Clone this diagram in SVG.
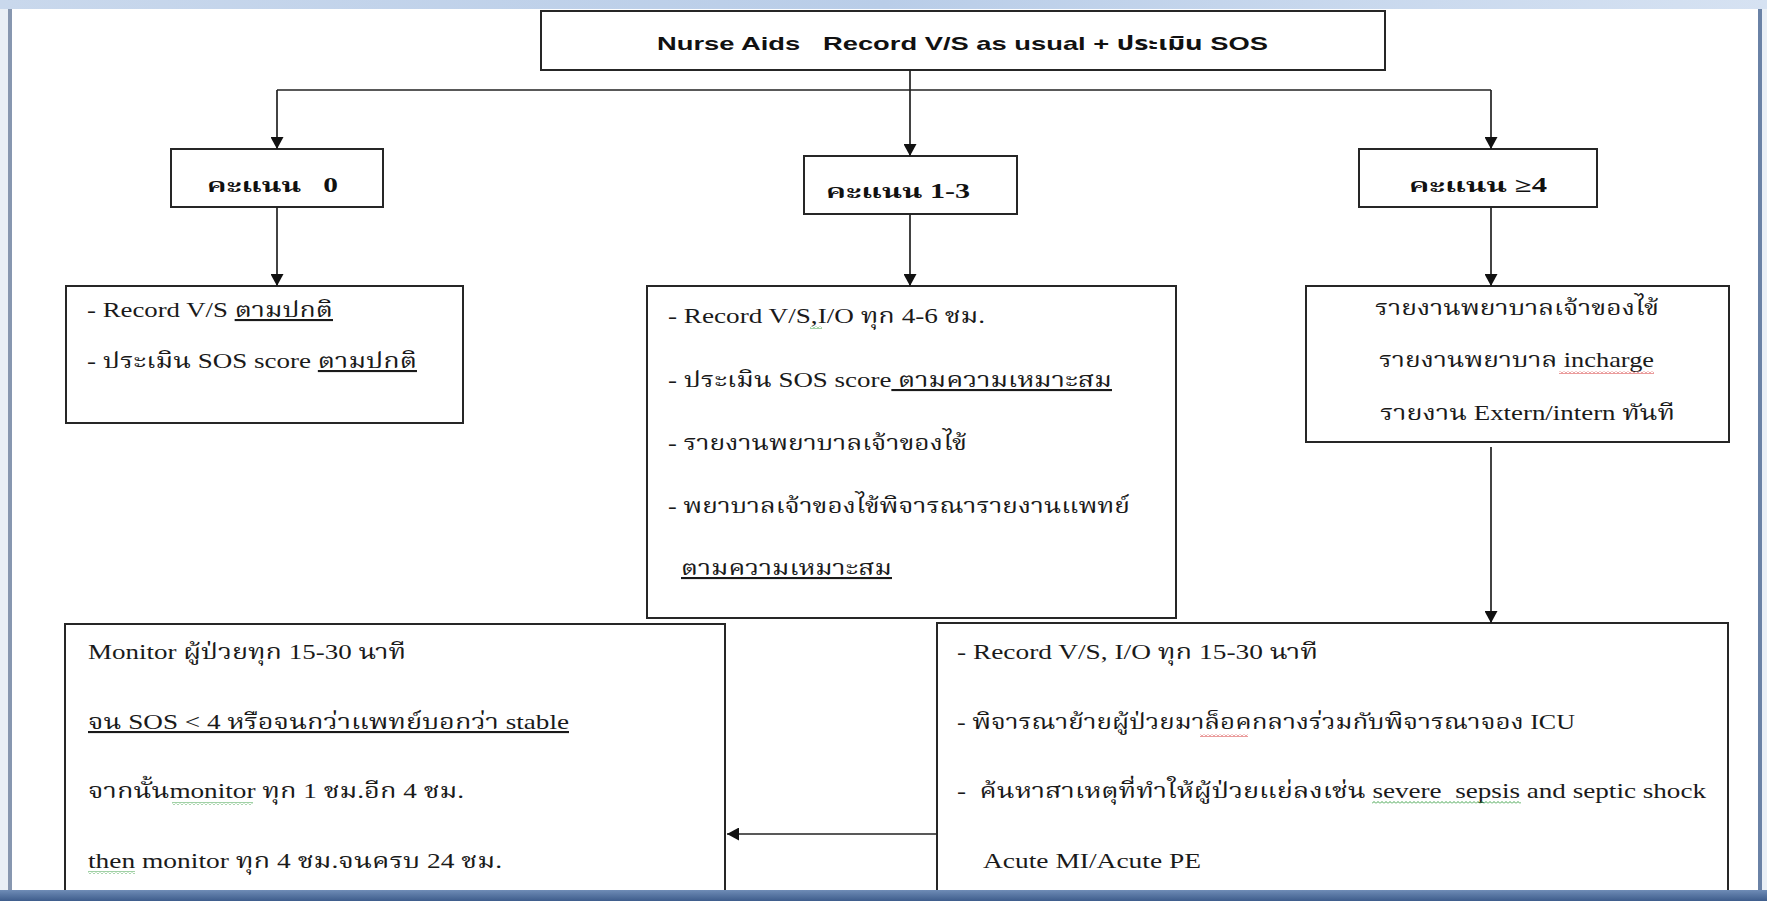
<svg xmlns="http://www.w3.org/2000/svg" width="1767" height="901" viewBox="0 0 1767 901">
<style>
.box{fill:#ffffff;stroke:#262626;stroke-width:2}
.con{fill:none;stroke:#222222;stroke-width:1.7}
.t{font-family:"Liberation Serif","Noto Serif Thai","Noto Sans Thai",serif;font-size:21px;fill:#1a1a1a}
.lbl{font-family:"Liberation Serif","Noto Serif Thai","Noto Sans Thai",serif;font-size:20px;font-weight:bold;fill:#111111}
.title{font-family:"Liberation Sans","Noto Sans Thai",sans-serif;font-size:19px;font-weight:bold;fill:#111111}
.u{text-decoration:underline}
.pre{white-space:pre}
</style>
<defs>
<marker id="arr" markerUnits="userSpaceOnUse" markerWidth="13" markerHeight="13" refX="12" refY="6.5" orient="auto">
<path d="M0,0 L12,6.5 L0,13 z" fill="#111111"/>
</marker>
<pattern id="sqR" patternUnits="userSpaceOnUse" width="4" height="3">
<path d="M0,2.5 L2,0.5 L4,2.5" fill="none" stroke="#d02020" stroke-width="0.9"/>
</pattern>
<pattern id="sqG" patternUnits="userSpaceOnUse" width="4" height="3">
<path d="M0,2.5 L2,0.5 L4,2.5" fill="none" stroke="#2e9a3a" stroke-width="0.9"/>
</pattern>
<linearGradient id="topG" x1="0" y1="0" x2="1" y2="0">
<stop offset="0" stop-color="#c9d8ec"/>
<stop offset="0.5" stop-color="#b9cde8"/>
<stop offset="1" stop-color="#d6e2f2"/>
</linearGradient>
<linearGradient id="botG" x1="0" y1="0" x2="0" y2="1">
<stop offset="0" stop-color="#6f8cb6"/>
<stop offset="1" stop-color="#3e5d8c"/>
</linearGradient>
</defs>
<rect x="0" y="0" width="1767" height="901" fill="#ffffff"/>

<g id="top">
<rect class="box" x="541" y="11" width="844" height="59"/>
<text class="title pre" x="657" y="50" textLength="611" lengthAdjust="spacingAndGlyphs">Nurse Aids   Record V/S as usual + ประเมิน SOS</text>
</g>

<g id="score0">
<rect class="box" x="171" y="149" width="212" height="58"/>
<text class="lbl pre" x="207" y="192" textLength="131" lengthAdjust="spacingAndGlyphs">คะแนน   0</text>
</g>

<g id="score13">
<rect class="box" x="804" y="156" width="213" height="58"/>
<text class="lbl" x="826" y="198" textLength="144" lengthAdjust="spacingAndGlyphs">คะแนน 1-3</text>
</g>

<g id="score4">
<rect class="box" x="1359" y="149" width="238" height="58"/>
<text class="lbl" x="1409" y="192" textLength="138" lengthAdjust="spacingAndGlyphs">คะแนน ≥4</text>
</g>

<g id="action0">
<rect class="box" x="66" y="286" width="397" height="137"/>
<text class="t" x="87" y="317" textLength="246" lengthAdjust="spacingAndGlyphs">- Record V/S <tspan class="u">ตามปกติ</tspan></text>
<text class="t" x="87" y="368" textLength="330" lengthAdjust="spacingAndGlyphs">- ประเมิน SOS score <tspan class="u">ตามปกติ</tspan></text>
</g>

<g id="action13">
<rect class="box" x="647" y="286" width="529" height="332"/>
<text class="t" x="668" y="323" textLength="317" lengthAdjust="spacingAndGlyphs">- Record V/S,I/O ทุก 4-6 ชม.</text>
<rect x="810" y="326" width="12" height="3" fill="url(#sqG)"/>
<text class="t" x="668" y="387" textLength="444" lengthAdjust="spacingAndGlyphs">- ประเมิน SOS score<tspan class="u"> ตามความเหมาะสม</tspan></text>
<text class="t" x="668" y="450" textLength="299" lengthAdjust="spacingAndGlyphs">- รายงานพยาบาลเจ้าของไข้</text>
<text class="t" x="668" y="513" textLength="462" lengthAdjust="spacingAndGlyphs">- พยาบาลเจ้าของไข้พิจารณารายงานแพทย์</text>
<text class="t u" x="681" y="575" textLength="211" lengthAdjust="spacingAndGlyphs">ตามความเหมาะสม</text>
</g>

<g id="action4">
<rect class="box" x="1306" y="286" width="423" height="156"/>
<text class="t" x="1375" y="315" textLength="284" lengthAdjust="spacingAndGlyphs">รายงานพยาบาลเจ้าของไข้</text>
<text class="t" x="1379" y="367" textLength="275" lengthAdjust="spacingAndGlyphs">รายงานพยาบาล incharge</text>
<rect x="1559" y="371" width="95" height="3" fill="url(#sqR)"/>
<text class="t" x="1380" y="420" textLength="295" lengthAdjust="spacingAndGlyphs">รายงาน Extern/intern ทันที</text>
</g>

<g id="monitor">
<rect class="box" x="65" y="624" width="660" height="275"/>
<text class="t" x="88" y="659" textLength="318" lengthAdjust="spacingAndGlyphs">Monitor ผู้ป่วยทุก 15-30 นาที</text>
<text class="t u" x="88" y="729" textLength="481" lengthAdjust="spacingAndGlyphs">จน SOS &lt; 4 หรือจนกว่าแพทย์บอกว่า stable</text>
<text class="t" x="88" y="798" textLength="376" lengthAdjust="spacingAndGlyphs">จากนั้นmonitor ทุก 1 ชม.อีก 4 ชม.</text>
<rect x="172" y="802" width="81" height="3" fill="url(#sqG)"/>
<text class="t" x="88" y="868" textLength="414" lengthAdjust="spacingAndGlyphs">then monitor ทุก 4 ชม.จนครบ 24 ชม.</text>
<rect x="88" y="871" width="47" height="3" fill="url(#sqG)"/>
</g>

<g id="urgent">
<rect class="box" x="937" y="623" width="791" height="276"/>
<text class="t" x="957" y="659" textLength="361" lengthAdjust="spacingAndGlyphs">- Record V/S, I/O ทุก 15-30 นาที</text>
<text class="t" x="957" y="729" textLength="618" lengthAdjust="spacingAndGlyphs">- พิจารณาย้ายผู้ป่วยมาล็อคกลางร่วมกับพิจารณาจอง ICU</text>
<rect x="1200" y="734" width="48" height="3" fill="url(#sqR)"/>
<text class="t pre" x="957" y="798" textLength="749" lengthAdjust="spacingAndGlyphs">-  ค้นหาสาเหตุที่ทำให้ผู้ป่วยแย่ลงเช่น severe  sepsis and septic shock</text>
<rect x="1372" y="801" width="149" height="3" fill="url(#sqG)"/>
<text class="t" x="983" y="868" textLength="218" lengthAdjust="spacingAndGlyphs">Acute MI/Acute PE</text>
</g>

<g id="connectors">
<line class="con" x1="910" y1="70" x2="910" y2="156" marker-end="url(#arr)"/>
<line class="con" x1="277" y1="90" x2="1491" y2="90"/>
<line class="con" x1="277" y1="90" x2="277" y2="149" marker-end="url(#arr)"/>
<line class="con" x1="1491" y1="90" x2="1491" y2="149" marker-end="url(#arr)"/>
<line class="con" x1="277" y1="207" x2="277" y2="286" marker-end="url(#arr)"/>
<line class="con" x1="910" y1="214" x2="910" y2="286" marker-end="url(#arr)"/>
<line class="con" x1="1491" y1="207" x2="1491" y2="286" marker-end="url(#arr)"/>
<line class="con" x1="1491" y1="447" x2="1491" y2="623" marker-end="url(#arr)"/>
<line class="con" x1="937" y1="834" x2="727" y2="834" marker-end="url(#arr)"/>
</g>

<g id="frame">
<rect x="0" y="0" width="1767" height="9" fill="url(#topG)"/>
<rect x="0" y="9" width="8" height="882" fill="#e9eff6"/>
<rect x="8" y="9" width="4" height="882" fill="#8797b0"/>
<rect x="1762" y="9" width="5" height="882" fill="#e9eff6"/>
<rect x="1758" y="9" width="4" height="882" fill="#6a82a6"/>
<rect x="0" y="890" width="1767" height="11" fill="url(#botG)"/>
</g>
</svg>
